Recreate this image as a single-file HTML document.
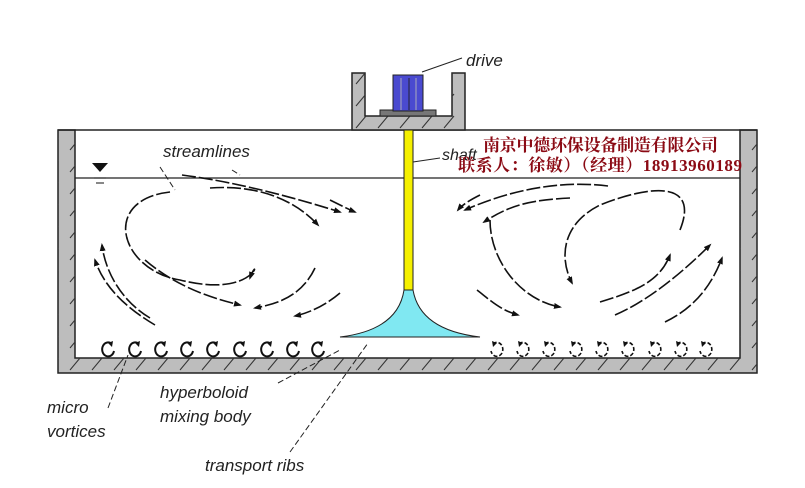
<!DOCTYPE html>
<html><head><meta charset="utf-8"><style>
html,body{margin:0;padding:0;background:#fff;}
svg{display:block;}
</style></head><body>
<svg width="805" height="488" viewBox="0 0 805 488" xmlns="http://www.w3.org/2000/svg">
<defs>
<pattern id="h" width="22" height="22" patternUnits="userSpaceOnUse">
<path d="M4 18 L14 6" stroke="#333" stroke-width="1"/>
</pattern>
<marker id="a" markerWidth="8" markerHeight="6" refX="6" refY="3" orient="auto" markerUnits="userSpaceOnUse"><path d="M0 0 L8 3 L0 6 Z" fill="#111"/></marker>
<g id="v"><path d="M4 -5 A6 7 0 1 0 6 2" fill="none" stroke="#111" stroke-width="2"/><path d="M0 -6 L5 -8 L4 -2 Z" fill="#111"/></g>
<g id="w"><path d="M-4 -5 A6 7 0 1 1 -6 2" fill="none" stroke="#111" stroke-width="1.6" stroke-dasharray="4 2"/><path d="M0 -6 L-5 -8 L-4 -2 Z" fill="#111"/></g>
</defs>
<!-- walls -->
<path d="M58 130 H75 V358 H740 V130 H757 V373 H58 Z" fill="#bdbdbd" stroke="#222" stroke-width="1.5"/>
<path d="M58 130 H75 V358 H740 V130 H757 V373 H58 Z" fill="url(#h)"/>
<line x1="58" y1="130" x2="757" y2="130" stroke="#222" stroke-width="1.5"/>
<!-- drive housing -->
<path d="M352 73 H365 V116 H452 V73 H465 V130 H352 Z" fill="#bdbdbd" stroke="#222" stroke-width="1.5"/>
<path d="M352 73 H365 V116 H452 V73 H465 V130 H352 Z" fill="url(#h)"/>
<rect x="380" y="110" width="56" height="6" fill="#777" stroke="#222"/>
<rect x="393" y="75" width="30" height="36" fill="#4a4ad0" stroke="#222"/>
<line x1="401" y1="78" x2="401" y2="110" stroke="#aab" /><line x1="409" y1="78" x2="409" y2="110" stroke="#223"/><line x1="416" y1="78" x2="416" y2="110" stroke="#aab"/>
<line x1="422" y1="72" x2="462" y2="58" stroke="#222"/>
<text x="466" y="66" font-family="Liberation Sans,sans-serif" font-style="italic" font-size="17" fill="#222">drive</text>
<!-- water line -->
<line x1="75" y1="178" x2="740" y2="178" stroke="#222" stroke-width="1.2"/>
<path d="M92 163 H108 L100 172 Z" fill="#111"/>
<line x1="94" y1="178" x2="106" y2="178" stroke="#111"/><line x1="96" y1="183" x2="104" y2="183" stroke="#111"/>
<!-- cone -->
<path d="M340 337 Q398 330 404 290 H413 Q420 330 480 337 Z" fill="#80e8f2" stroke="#222" stroke-width="1"/>
<rect x="404" y="130" width="9" height="160" fill="#f5f000" stroke="#222"/>
<line x1="413" y1="162" x2="440" y2="158" stroke="#222"/>
<text x="442" y="160" font-family="Liberation Sans,sans-serif" font-style="italic" font-size="16" fill="#222">shaft</text>
<!-- streamlines left -->
<g fill="none" stroke="#111" stroke-width="1.6" stroke-dasharray="14 3" marker-end="url(#a)">
<path d="M170 192 C100 200 120 270 180 280 C260 300 260 250 250 278"/>
<path d="M145 260 C180 290 220 300 240 305"/>
<path d="M315 268 C300 300 270 305 255 308"/>
<path d="M182 175 C220 180 270 190 340 212"/>
<path d="M210 188 C250 185 290 195 318 225"/>
<path d="M330 200 C340 205 350 210 355 212"/>
<path d="M150 318 C120 300 105 270 102 245"/>
<path d="M155 325 C130 310 105 290 95 260"/>
<path d="M340 293 C320 310 300 315 295 316"/>
</g>
<!-- streamlines right -->
<g fill="none" stroke="#111" stroke-width="1.6" stroke-dasharray="14 3" marker-end="url(#a)">
<path d="M680 230 C700 180 650 185 600 205 C560 225 560 260 572 283"/>
<path d="M600 302 C640 290 660 280 670 255"/>
<path d="M490 220 C490 260 520 300 560 307"/>
<path d="M608 186 C560 180 510 190 465 210"/>
<path d="M570 198 C530 200 510 205 484 222"/>
<path d="M480 195 C470 200 462 205 458 210"/>
<path d="M615 315 C650 300 685 270 710 245"/>
<path d="M665 322 C690 310 710 290 722 258"/>
<path d="M477 290 C490 300 500 310 518 315"/>
</g>
<!-- micro vortices -->
<g>
<use href="#v" x="108" y="349"/><use href="#v" x="135" y="349"/><use href="#v" x="161" y="349"/><use href="#v" x="187" y="349"/><use href="#v" x="213" y="349"/><use href="#v" x="240" y="349"/><use href="#v" x="267" y="349"/><use href="#v" x="293" y="349"/><use href="#v" x="318" y="349"/>
<use href="#w" x="497" y="349"/><use href="#w" x="523" y="349"/><use href="#w" x="549" y="349"/><use href="#w" x="576" y="349"/><use href="#w" x="602" y="349"/><use href="#w" x="628" y="349"/><use href="#w" x="655" y="349"/><use href="#w" x="681" y="349"/><use href="#w" x="706" y="349"/>
</g>
<!-- labels -->
<g font-family="Liberation Sans,sans-serif" font-style="italic" font-size="17" fill="#222">
<text x="163" y="157">streamlines</text>
<text x="47" y="413">micro</text>
<text x="47" y="437">vortices</text>
<text x="160" y="398">hyperboloid</text>
<text x="160" y="422">mixing body</text>
<text x="205" y="471">transport ribs</text>
</g>
<g stroke="#222" stroke-dasharray="6 3" fill="none">
<line x1="160" y1="167" x2="175" y2="190"/>
<line x1="232" y1="170" x2="240" y2="175"/>
<line x1="108" y1="408" x2="128" y2="355"/>
<line x1="278" y1="383" x2="340" y2="350"/>
<line x1="290" y1="452" x2="368" y2="343"/>
</g>
<!-- chinese -->
<g font-family="Liberation Serif,'Noto Serif CJK SC',serif" font-weight="bold" font-size="17" fill="#8b0a14">
<text x="483" y="151" textLength="235">南京中德环保设备制造有限公司</text>
<text x="458" y="171" textLength="284">联系人：徐敏）（经理）18913960189</text>
</g>
</svg>
</body></html>
